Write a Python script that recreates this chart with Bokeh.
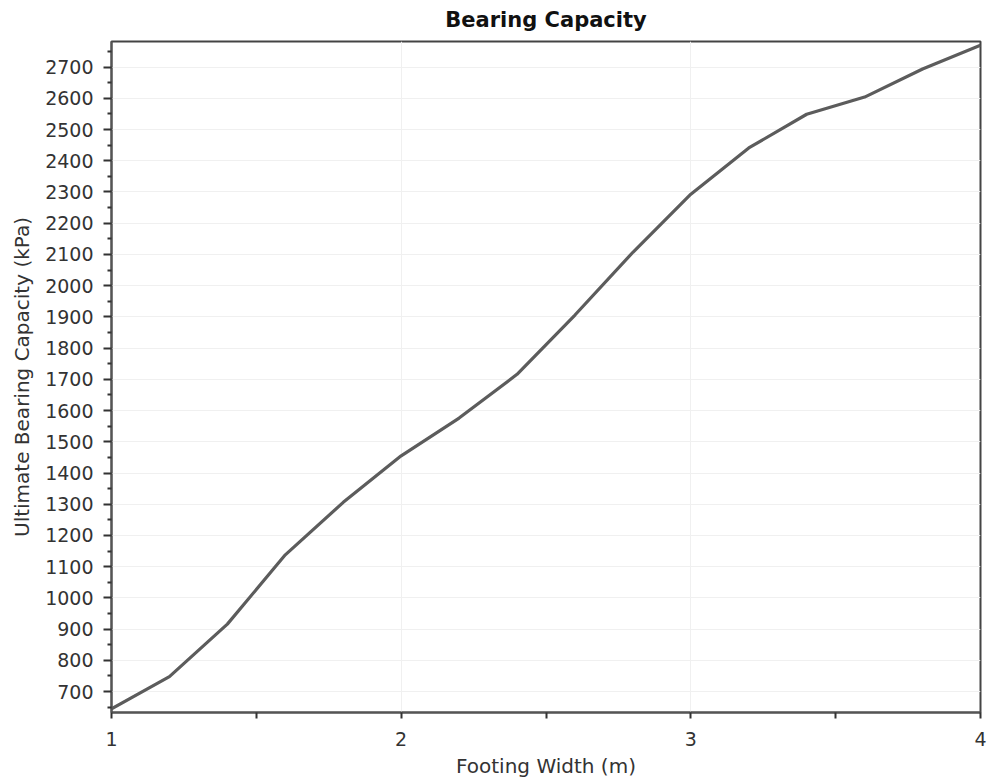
from bokeh.plotting import figure
from bokeh.models import FixedTicker, Range1d
from bokeh.embed import file_html
from bokeh.resources import INLINE

# Data
footing_width = [1.0, 1.2, 1.4, 1.6, 1.8, 2.0, 2.2, 2.4, 2.6, 2.8, 3.0, 3.2, 3.4, 3.6, 3.8, 4.0]
bearing_capacity = [645, 748, 916, 1138, 1306, 1455, 1576, 1716, 1906, 2107, 2293, 2441, 2549, 2604, 2694, 2770]

x_major_ticks = [1, 2, 3, 4]
x_minor_ticks = [1.5, 2.5, 3.5]
y_major_ticks = list(range(700, 2701, 100))
y_minor_ticks = list(range(650, 2751, 100))

FONT = "DejaVu Sans"

p = figure(width=995, height=782, output_backend="svg", toolbar_location=None,
           x_range=Range1d(1, 4), y_range=Range1d(633, 2782),
           min_border_left=111, min_border_right=15, min_border_top=41, min_border_bottom=70)

p.line(footing_width, bearing_capacity, line_color="#5c5c5c", line_width=3.2)

p.title.text = "Bearing Capacity"
p.title.align = "center"
p.title.vertical_align = "top"
p.title.text_font = FONT
p.title.text_font_size = "21px"
p.title.text_font_style = "bold"
p.title.text_color = "#111111"
p.title.standoff = 15

p.xaxis.ticker = FixedTicker(ticks=x_major_ticks, minor_ticks=x_minor_ticks)
p.yaxis.ticker = FixedTicker(ticks=y_major_ticks, minor_ticks=y_minor_ticks)

p.xaxis.axis_label = "Footing Width (m)"
p.yaxis.axis_label = "Ultimate Bearing Capacity (kPa)"

for ax in (p.xaxis, p.yaxis):
    ax.axis_label_text_font = FONT
    ax.axis_label_text_font_size = "20px"
    ax.axis_label_text_font_style = "normal"
    ax.axis_label_text_color = "#333333"
    ax.major_label_text_font = FONT
    ax.major_label_text_font_size = "19px"
    ax.major_label_text_color = "#333333"
    ax.axis_line_color = "#555555"
    ax.axis_line_width = 2
    ax.major_tick_line_color = "#333333"
    ax.minor_tick_line_color = "#333333"
    ax.major_tick_line_width = 2
    ax.minor_tick_line_width = 2
    ax.major_tick_in = 0
    ax.minor_tick_in = 0

p.xaxis.major_tick_out = 6
p.xaxis.minor_tick_out = 6
p.xaxis.major_label_standoff = 13
p.xaxis.axis_label_standoff = 5
p.yaxis.major_tick_out = 8
p.yaxis.minor_tick_out = 4
p.yaxis.major_label_standoff = 10
p.yaxis.axis_label_standoff = 8

p.xgrid.ticker = FixedTicker(ticks=x_major_ticks)
p.ygrid.ticker = FixedTicker(ticks=y_major_ticks)
p.grid.grid_line_color = "#f0f0f0"
p.grid.grid_line_width = 1

p.outline_line_color = "#444444"
p.outline_line_width = 2
p.background_fill_color = "white"
p.border_fill_color = "white"

open("out.html", "w").write(file_html(p, INLINE))
